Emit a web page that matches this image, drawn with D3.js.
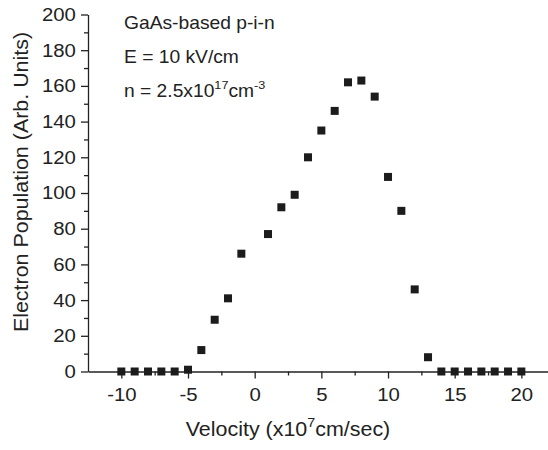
<!DOCTYPE html>
<html>
<head>
<meta charset="utf-8">
<script src="https://cdn.jsdelivr.net/npm/d3@7"></script>
<style>
  body { margin: 0; background: #fff; }
  text { font-family: "Liberation Sans", Arial, sans-serif; fill: #222; }
</style>
</head>
<body>
<div id="chart"></div>
<script>
// Electron population vs velocity (scatter)

const velocity = [-10, -9, -8, -7, -6, -5, -4, -3, -2, -1, 1, 2, 3, 4, 5, 6, 7, 8, 9, 10,
    11, 12, 13, 14, 15, 16, 17, 18, 19, 20];
const population = [0, 0, 0, 0, 0, 1, 12, 29, 41, 66, 77, 92, 99, 120, 135, 146, 162, 163, 154, 109,
    90, 46, 8, 0, 0, 0, 0, 0, 0, 0];
const xTicks = [-10, -5, 0, 5, 10, 15, 20];
const xMinor = [-7.5, -2.5, 2.5, 7.5, 12.5, 17.5];
const yTicks = [0, 20, 40, 60, 80, 100, 120, 140, 160, 180, 200];
const yMinor = [10, 30, 50, 70, 90, 110, 130, 150, 170, 190];

const width = 548;
const height = 450;
const stretch = "scale(1.1,1)";

const svg = d3.select("#chart")
    .append("svg")
    .attr("width", width)
    .attr("height", height);

const x = d3.scaleLinear()
    .domain([-12.5, 22.5])
    .range([88, 554.7]);

const y = d3.scaleLinear()
    .domain([0, 200])
    .range([371.5, 14.5]);

const data = velocity.map((v, i) => ({v: v, p: population[i]}));

// x axis (plain hyphen for negatives, like the original)
const xAxisG = svg.append("g")
    .attr("transform", `translate(0, ${y(0)})`)
    .call(d3.axisBottom(x).tickValues(xTicks).tickFormat(d => String(d))
        .tickSize(7).tickPadding(9).tickSizeOuter(0));

svg.append("g")
    .attr("transform", `translate(0, ${y(0)})`)
    .call(d3.axisBottom(x).tickValues(xMinor).tickSize(4).tickFormat("").tickSizeOuter(0))
    .select(".domain").remove();

// y axis
const yAxisG = svg.append("g")
    .attr("transform", `translate(${x(-12.5)}, 0)`)
    .call(d3.axisLeft(y).tickValues(yTicks).tickSize(7).tickPadding(4).tickSizeOuter(0));

svg.append("g")
    .attr("transform", `translate(${x(-12.5)}, 0)`)
    .call(d3.axisLeft(y).tickValues(yMinor).tickSize(4).tickFormat("").tickSizeOuter(0))
    .select(".domain").remove();

svg.selectAll(".domain, .tick line")
    .attr("stroke", "#222")
    .attr("stroke-width", 1.3);

xAxisG.selectAll(".tick text")
    .attr("font-size", 18.5)
    .attr("transform", stretch);

yAxisG.selectAll(".tick text")
    .attr("font-size", 18.5)
    .attr("transform", stretch);

// axis titles
const xTitle = svg.append("text")
    .attr("transform", `translate(288, 436) ${stretch}`)
    .attr("text-anchor", "middle")
    .attr("font-size", 19.5);
xTitle.append("tspan").text("Velocity (x10");
xTitle.append("tspan").attr("dy", -9).attr("font-size", 13).text("7");
xTitle.append("tspan").attr("dy", 9).text("cm/sec)");

svg.append("text")
    .attr("transform", `translate(28, 182) rotate(-90) ${stretch}`)
    .attr("text-anchor", "middle")
    .attr("font-size", 19.5)
    .text("Electron Population (Arb. Units)");

// annotations
svg.append("text")
    .attr("transform", `translate(124, 29) ${stretch}`)
    .attr("font-size", 17.5)
    .text("GaAs-based p-i-n");

svg.append("text")
    .attr("transform", `translate(124, 63) ${stretch}`)
    .attr("font-size", 17.5)
    .text("E = 10 kV/cm");

const nText = svg.append("text")
    .attr("transform", `translate(124, 97) ${stretch}`)
    .attr("font-size", 17.5);
nText.append("tspan").text("n = 2.5x10");
nText.append("tspan").attr("dy", -8).attr("font-size", 11.5).text("17");
nText.append("tspan").attr("dy", 8).text("cm");
nText.append("tspan").attr("dy", -8).attr("font-size", 11.5).text("-3");

// markers
const size = 8;
svg.append("g")
    .selectAll("rect")
    .data(data)
    .join("rect")
    .attr("x", d => x(d.v) - size / 2)
    .attr("y", d => y(d.p) - size / 2)
    .attr("width", size)
    .attr("height", size)
    .attr("fill", "#1c1c1c");
</script>
</body>
</html>
